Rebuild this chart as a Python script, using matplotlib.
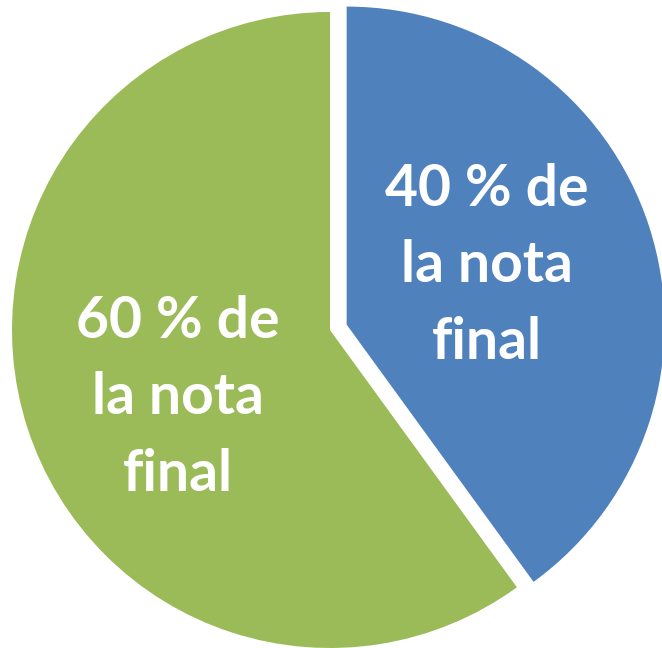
import matplotlib
matplotlib.use("Agg")
import matplotlib.pyplot as plt

# Slice data (clockwise from 12 o'clock)
labels = ["40 % de\nla nota\nfinal", "60 % de\nla nota\nfinal"]
shares = [40, 60]
colors = ["#4f81bd", "#9bbb59"]
explode = [17.5, 0]  # pie offsets are in data units (pixels here)

fig = plt.figure(figsize=(6.62, 6.48), dpi=100)
ax = fig.add_axes([0, 0, 1, 1])

wedges, _ = ax.pie(shares, colors=colors, explode=explode, startangle=90,
                   counterclock=False, center=(330, 318), radius=318,
                   frame=True, wedgeprops=dict(linewidth=0))
ax.set_xlim(0, 662)
ax.set_ylim(0, 648)
ax.set_aspect("equal")
ax.axis("off")

txt = dict(color="white", fontsize=41, fontweight="bold", family="Lato",
           ha="center", va="center", linespacing=1.55)
ax.text(487, 382, labels[0], **txt)
ax.text(178, 250, labels[1], **txt)

fig.savefig("out.png", dpi=100)
